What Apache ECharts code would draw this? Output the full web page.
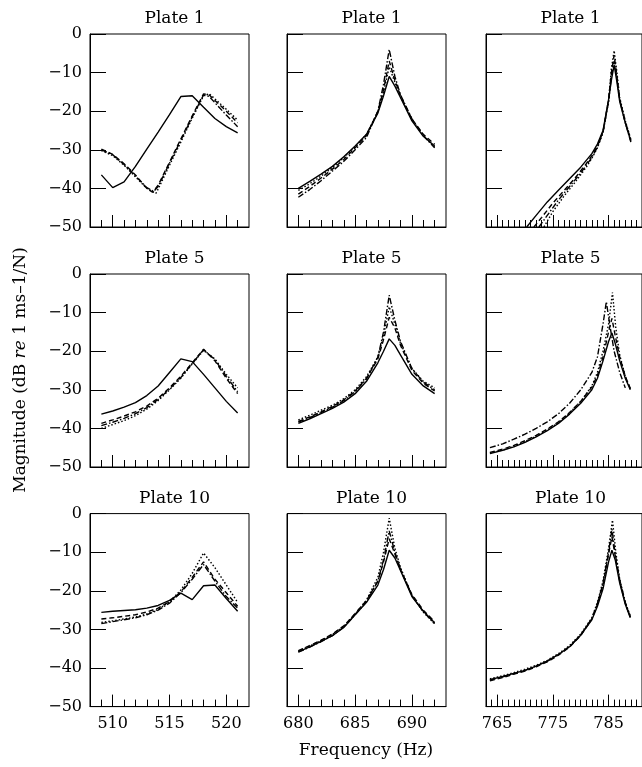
<!DOCTYPE html>
<html><head><meta charset="utf-8">
<script src="https://cdn.jsdelivr.net/npm/echarts@6/dist/echarts.min.js"></script>
<style>html,body{margin:0;padding:0;background:#fff}#c{width:642px;height:767px}</style>
</head><body><div id="c"></div>
<script>
// ---- tick labels / axis ranges ----
const xRanges = [[508, 522], [679, 693], [763, 791]];
const xMajor = [[510, 515, 520], [680, 685, 690], [765, 775, 785]];
const yTicks = [0, -10, -20, -30, -40, -50];
const plateNames = ['Plate 1', 'Plate 5', 'Plate 10'];

// ---- Plate 1 ----
const p1a_solid = [[509,-36.5],[510,-39.8],[511,-38.3],[512,-34.3],[513,-29.8],[514,-25.4],[515,-20.9],[516,-16.2],[517,-16],[518,-19],[519,-21.9],[520,-24],[521,-25.6]];
const p1a_dash = [[509,-29.8],[510,-31.2],[511,-33.6],[512,-36.5],[513,-40],[513.5,-41],[514,-39.2],[515,-33.2],[516,-27.2],[517,-21.2],[518,-15.5],[518.5,-15.8],[519,-17.2],[520,-20],[521,-23]];
const p1a_dot = [[509,-30.2],[510,-31.5],[511,-34],[512,-37],[513,-40],[513.8,-41.3],[514,-40.2],[515,-34],[516,-28],[517,-21.8],[518,-16],[518.5,-15.5],[519,-16.8],[520,-19.5],[521,-22.3]];
const p1a_dashdot = [[509,-30],[510,-31.3],[511,-33.8],[512,-36.8],[513,-39.8],[513.6,-40.8],[514,-39.5],[515,-33.5],[516,-27.5],[517,-21.5],[518,-15.8],[518.5,-16.2],[519,-17.8],[520,-21],[521,-24]];

const p1b_solid = [[680,-40],[681,-38.2],[682,-36.3],[683,-34.3],[684,-31.8],[685,-29],[686,-26],[687,-20.5],[687.5,-16],[688,-11],[688.5,-13.5],[689,-16.5],[690,-22.5],[691,-26.5],[692,-29]];
const p1b_dash = [[680,-41.5],[681,-39.5],[682,-37.3],[683,-35],[684,-32.5],[685,-29.5],[686,-26.3],[687,-20],[687.5,-14.5],[688,-7],[688.5,-12],[689,-16],[690,-22],[691,-26],[692,-28.6]];
const p1b_dot = [[680,-40.5],[681,-38.8],[682,-36.8],[683,-34.6],[684,-32],[685,-29.2],[686,-26],[687,-20.2],[687.5,-15],[688,-8.5],[688.5,-12.5],[689,-16.2],[690,-22.2],[691,-26.2],[692,-29.3]];
const p1b_dashdot = [[680,-42.3],[681,-40.3],[682,-38],[683,-35.5],[684,-33],[685,-30],[686,-26.8],[687,-20],[687.5,-13],[688,-4],[688.5,-11],[689,-15.8],[690,-22],[691,-26.3],[692,-29.5]];

const p1c_solid = [[770.3,-50],[772,-47],[774,-43.5],[776,-40.5],[778,-37.5],[780,-34.5],[782,-31],[783,-28.5],[784,-25],[785,-17],[785.5,-12],[786,-8],[786.5,-12.5],[787,-17.5],[788,-23],[789,-27.8]];
const p1c_dash = [[771.6,-50],[773,-47.5],[775,-43.8],[777,-40.6],[779,-37.3],[781,-33.6],[782,-31.5],[783,-29],[784,-25.3],[785,-17],[785.5,-10],[786,-5.5],[786.5,-11],[787,-17],[788,-22.8],[789,-27.5]];
const p1c_dot = [[773.4,-50],[775,-46],[777,-42],[779,-38.4],[781,-34.5],[782,-32.2],[783,-29.5],[784,-25.5],[785,-17.5],[785.5,-9],[786,-4.3],[786.5,-10],[787,-16.5],[788,-22.5],[789,-27.3]];
const p1c_dashdot = [[772.5,-50],[774,-47],[776,-43],[778,-39.5],[780,-36],[782,-32],[783,-29.3],[784,-25.5],[785,-17.5],[785.5,-11],[786,-7],[786.5,-11.5],[787,-17],[788,-23],[789,-28]];

// ---- Plate 5 ----
const p5a_solid = [[509,-36.3],[510,-35.5],[511,-34.5],[512,-33.3],[513,-31.5],[514,-29],[515,-25.5],[516,-22],[517,-22.7],[518,-26],[519,-29.5],[520,-33],[521,-36]];
const p5a_dash = [[509,-38.7],[510,-37.8],[511,-36.8],[512,-35.7],[513,-34.2],[514,-32.2],[515,-29.5],[516,-26.5],[517,-23],[518,-19.5],[519,-22.5],[520,-27],[521,-31]];
const p5a_dot = [[509,-40],[510,-39],[511,-38],[512,-36.7],[513,-35],[514,-32.8],[515,-30],[516,-27],[517,-23.3],[518,-19.8],[519,-22],[520,-26],[521,-29.5]];
const p5a_dashdot = [[509,-39.3],[510,-38.4],[511,-37.4],[512,-36.2],[513,-34.6],[514,-32.5],[515,-29.8],[516,-26.8],[517,-23.2],[518,-19.6],[519,-22.2],[520,-26.5],[521,-30.5]];

const p5b_solid = [[680,-38.7],[681,-37.5],[682,-36.2],[683,-34.8],[684,-33.2],[685,-31],[686,-27.8],[687,-23],[687.5,-20],[688,-16.8],[688.5,-18.5],[689,-21],[690,-26],[691,-29],[692,-31]];
const p5b_dash = [[680,-38.2],[681,-37],[682,-35.7],[683,-34.3],[684,-32.6],[685,-30.3],[686,-27],[687,-22],[687.5,-17],[688,-11.2],[688.5,-14],[689,-18.5],[690,-25],[691,-28.3],[692,-30.3]];
const p5b_dot = [[680,-37.8],[681,-36.6],[682,-35.3],[683,-34],[684,-32.3],[685,-30],[686,-26.6],[687,-21.5],[687.5,-16],[688,-8.5],[688.5,-13],[689,-18],[690,-24.5],[691,-27.8],[692,-29.5]];
const p5b_dashdot = [[680,-38.4],[681,-37.2],[682,-35.9],[683,-34.5],[684,-32.8],[685,-30.5],[686,-27.2],[687,-21.5],[687.5,-15],[688,-5.5],[688.5,-12],[689,-17.5],[690,-24.5],[691,-28],[692,-30]];

const p5c_solid = [[763.7,-46.5],[766,-45.7],[768,-44.8],[770,-43.6],[772,-42.2],[774,-40.6],[776,-38.7],[778,-36.3],[780,-33.5],[782,-30],[783,-27],[784,-22.5],[785,-17.5],[785.6,-15.3],[786.2,-18],[787,-22.5],[788,-27],[788.9,-30]];
const p5c_dash = [[763.7,-46.2],[766,-45.4],[768,-44.4],[770,-43.2],[772,-41.8],[774,-40.2],[776,-38.3],[778,-35.9],[780,-33],[782,-29.3],[783,-26.3],[784,-21.5],[785,-15],[785.6,-11.5],[786.2,-16],[787,-21.5],[788,-26.5],[788.9,-29.6]];
const p5c_dot = [[763.7,-46.4],[766,-45.6],[768,-44.6],[770,-43.4],[772,-42],[774,-40.4],[776,-38.5],[778,-36],[780,-33],[782,-29],[783,-25.5],[784,-20],[785,-13],[785.7,-4.8],[786.3,-14],[787,-21],[788,-26.5],[788.9,-29.8]];
const p5c_dashdot = [[763.7,-45],[766,-44],[768,-42.8],[770,-41.5],[772,-40],[774,-38.3],[776,-36.2],[778,-33.5],[780,-30],[782,-25.5],[783,-21.5],[784,-13],[784.6,-7.2],[785.2,-13],[786,-20],[787,-25.5],[788,-29.5]];

// ---- Plate 10 ----
const p10a_solid = [[509,-25.6],[510,-25.3],[511,-25.1],[512,-24.9],[513,-24.5],[514,-23.8],[515,-22.5],[516,-20.6],[517,-22.3],[518,-18.7],[519,-18.5],[520,-22],[521,-25.3]];
const p10a_dash = [[509,-27.3],[510,-27],[511,-26.6],[512,-26.2],[513,-25.5],[514,-24.5],[515,-22.8],[516,-20.3],[517,-16.5],[518,-12.5],[519,-17],[520,-20.5],[521,-24]];
const p10a_dot = [[509,-28.2],[510,-27.8],[511,-27.3],[512,-26.8],[513,-26],[514,-24.8],[515,-22.8],[516,-19.8],[517,-15.5],[518,-10.2],[519,-14],[520,-18.5],[521,-23]];
const p10a_dashdot = [[509,-28.5],[510,-28],[511,-27.5],[512,-27],[513,-26.2],[514,-25],[515,-23.2],[516,-20.5],[517,-17],[518,-13.2],[519,-17.5],[520,-21.5],[521,-24.5]];

const p10b_solid = [[680,-35.8],[681,-34.5],[682,-33.1],[683,-31.6],[684,-29.5],[685,-26.2],[686,-23],[687,-18.5],[687.5,-14.5],[688,-9.5],[688.5,-11.5],[689,-14.8],[690,-21.5],[691,-25.3],[692,-28.3]];
const p10b_dash = [[680,-35.5],[681,-34.2],[682,-32.8],[683,-31.2],[684,-29.1],[685,-25.9],[686,-22.5],[687,-17.5],[687.5,-12.5],[688,-6.5],[688.5,-10.5],[689,-14.5],[690,-21],[691,-25],[692,-28]];
const p10b_dot = [[680,-35.6],[681,-34.3],[682,-32.9],[683,-31.3],[684,-29.2],[685,-26],[686,-22.4],[687,-16.5],[687.5,-10],[688,-1.2],[688.5,-9],[689,-14],[690,-21.3],[691,-25.5],[692,-28.6]];
const p10b_dashdot = [[680,-35.9],[681,-34.6],[682,-33.2],[683,-31.6],[684,-29.4],[685,-26.2],[686,-22.8],[687,-17.5],[687.5,-12],[688,-4.5],[688.5,-10],[689,-14.5],[690,-21.2],[691,-25.4],[692,-28.5]];

const p10c_solid = [[763.7,-43],[766,-42.2],[768,-41.4],[770,-40.6],[772,-39.5],[774,-38.2],[776,-36.5],[778,-34.5],[780,-31.5],[782,-27.5],[783,-24],[784,-19.5],[785,-12.5],[785.6,-9.5],[786.2,-12],[787,-18],[788,-23.5],[788.9,-27]];
const p10c_dash = [[763.7,-43.3],[766,-42.5],[768,-41.6],[770,-40.8],[772,-39.7],[774,-38.4],[776,-36.7],[778,-34.6],[780,-31.6],[782,-27.3],[783,-23.5],[784,-18.5],[785,-10.5],[785.6,-6],[786.2,-11],[787,-17.5],[788,-23.2],[788.9,-26.8]];
const p10c_dot = [[763.7,-42.8],[766,-42],[768,-41.2],[770,-40.3],[772,-39.3],[774,-38],[776,-36.3],[778,-34.2],[780,-31.2],[782,-27],[783,-23],[784,-17.5],[785,-9],[785.7,-1.7],[786.3,-10],[787,-17],[788,-23],[788.9,-26.5]];
const p10c_dashdot = [[763.7,-43.1],[766,-42.3],[768,-41.5],[770,-40.6],[772,-39.5],[774,-38.2],[776,-36.5],[778,-34.4],[780,-31.4],[782,-27.2],[783,-23.3],[784,-18],[785,-10],[785.6,-4],[786.2,-10.5],[787,-17.2],[788,-23],[788.9,-26.8]];

const panels = [
  [p1a_solid, p1a_dash, p1a_dot, p1a_dashdot],
  [p1b_solid, p1b_dash, p1b_dot, p1b_dashdot],
  [p1c_solid, p1c_dash, p1c_dot, p1c_dashdot],
  [p5a_solid, p5a_dash, p5a_dot, p5a_dashdot],
  [p5b_solid, p5b_dash, p5b_dot, p5b_dashdot],
  [p5c_solid, p5c_dash, p5c_dot, p5c_dashdot],
  [p10a_solid, p10a_dash, p10a_dot, p10a_dashdot],
  [p10b_solid, p10b_dash, p10b_dot, p10b_dashdot],
  [p10c_solid, p10c_dash, p10c_dot, p10c_dashdot]
];

// ---- layout / styles ----
const FONT = 'DejaVu Serif';
const colLeft = [90, 287, 486];
const colPxPerHz = [159 / 14, 159 / 14, 5.8];
const rowTop = [34, 274, 513.6];
const rowH = 193;
const lineTypes = ['solid', [5, 3], [1.5, 2], [6, 2, 1.5, 2]];

const grids = [], xAxes = [], yAxes = [], series = [], titles = [];
for (let r = 0; r < 3; r++) {
  for (let c = 0; c < 3; c++) {
    const g = r * 3 + c;
    const [mn, mx] = xRanges[c];
    const w = (mx - mn) * colPxPerHz[c];
    grids.push({left: colLeft[c], top: rowTop[r], width: w, height: rowH,
      show: true, borderColor: '#000', borderWidth: 1, backgroundColor: 'transparent', containLabel: false});
    const minors = [];
    for (let v = Math.ceil(mn + 0.001); v < mx; v++) if (xMajor[c].indexOf(v) < 0) minors.push(v);
    xAxes.push({type: 'value', gridIndex: g, min: mn, max: mx, position: 'bottom',
      splitLine: {show: false},
      axisLine: {show: true, onZero: false, lineStyle: {color: '#000', width: 1}},
      axisTick: {show: true, inside: true, length: 12, customValues: xMajor[c], lineStyle: {color: '#000', width: 1}},
      axisLabel: {show: r === 2, customValues: xMajor[c], color: '#000', fontFamily: FONT, fontSize: 16, margin: 9}});
    xAxes.push({type: 'value', gridIndex: g, min: mn, max: mx, position: 'bottom',
      splitLine: {show: false}, axisLine: {show: false, onZero: false},
      axisTick: {show: true, inside: true, length: 7, customValues: minors, lineStyle: {color: '#000', width: 1}},
      axisLabel: {show: false}});
    yAxes.push({type: 'value', gridIndex: g, min: -50, max: 0, interval: 10,
      splitLine: {show: false},
      axisLine: {show: true, onZero: false, lineStyle: {color: '#000', width: 1}},
      axisTick: {show: true, inside: true, length: 16, lineStyle: {color: '#000', width: 1}},
      axisLabel: {show: c === 0, color: '#000', fontFamily: FONT, fontSize: 16, margin: 8,
        formatter: v => v < 0 ? '\u2212' + (-v) : String(v)}});
    titles.push({text: plateNames[r], left: colLeft[c] + 159 / 2, top: rowTop[r] - 29, textAlign: 'center',
      textStyle: {fontFamily: FONT, fontSize: 17, fontWeight: 'normal', color: '#000'}});
    panels[g].forEach((d, k) => {
      series.push({type: 'line', xAxisIndex: g * 2, yAxisIndex: g, data: d, symbol: 'none',
        animation: false, silent: true,
        lineStyle: {color: '#000', width: 1.4, type: lineTypes[k]}});
    });
  }
}

const chart = echarts.init(document.getElementById('c'), null, {renderer: 'canvas'});
chart.setOption({
  animation: false,
  backgroundColor: '#fff',
  title: titles,
  grid: grids, xAxis: xAxes, yAxis: yAxes, series: series,
  graphic: [
    {type: 'text', x: 21, y: 370, rotation: Math.PI / 2,
      style: {text: '{a|Magnitude (dB }{i|re}{a| 1 ms\u20131/N)}', align: 'center', verticalAlign: 'middle',
        rich: {a: {fontFamily: FONT, fontSize: 17, fill: '#000', color: '#000'},
               i: {fontFamily: FONT, fontSize: 17, fontStyle: 'italic', fill: '#000', color: '#000'}}}},
    {type: 'text', x: 366, y: 751,
      style: {text: 'Frequency (Hz)', fontFamily: FONT, fontSize: 17, fill: '#000', align: 'center', verticalAlign: 'middle'}}
  ]
});
</script></body></html>
